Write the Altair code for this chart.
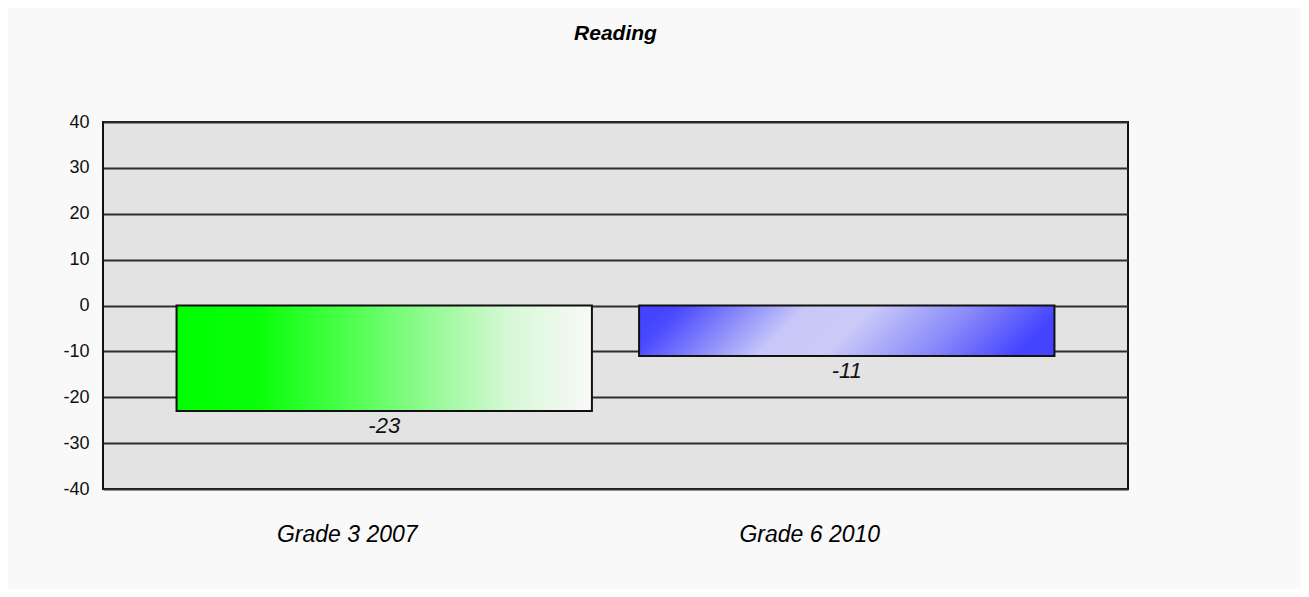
import altair as alt
import pandas as pd

categories = ["Grade 3 2007", "Grade 6 2010"]
values = [-23, -11]
value_labels = ["-23", "-11"]
y_ticks = [-40, -30, -20, -10, 0, 10, 20, 30, 40]

df = pd.DataFrame({"cat": categories, "val": values, "lab": value_labels})

green = alt.LinearGradient(
    gradient="linear", x1=0, y1=0, x2=1, y2=0,
    stops=[
        alt.GradientStop(color="#00ff00", offset=0),
        alt.GradientStop(color="#0aff0a", offset=0.2),
        alt.GradientStop(color="#48ff48", offset=0.4),
        alt.GradientStop(color="#90fa90", offset=0.6),
        alt.GradientStop(color="#d6f8d6", offset=0.8),
        alt.GradientStop(color="#f9f9f9", offset=1),
    ],
)
blue = alt.LinearGradient(
    gradient="linear", x1=0, y1=0.44, x2=1, y2=0.56,
    stops=[
        alt.GradientStop(color="#4444ff", offset=0),
        alt.GradientStop(color="#4a4aff", offset=0.05),
        alt.GradientStop(color="#c8c8f8", offset=0.35),
        alt.GradientStop(color="#cbcbf8", offset=0.5),
        alt.GradientStop(color="#8888fa", offset=0.75),
        alt.GradientStop(color="#4444ff", offset=0.96),
        alt.GradientStop(color="#4444ff", offset=1),
    ],
)

x_enc = alt.X(
    "cat:N", sort=categories,
    scale=alt.Scale(paddingInner=0.102, paddingOuter=0.159),
    axis=alt.Axis(title=None, labelAngle=0, domain=False, ticks=False,
                  labelFontSize=23, labelFont="Liberation Sans",
                  labelFontStyle="italic", labelColor="black",
                  labelPadding=34, labelOffset=-37),
)
y_enc = alt.Y(
    "val:Q",
    scale=alt.Scale(domain=[-40, 40], nice=False),
    axis=alt.Axis(values=y_ticks, title=None, grid=True, gridColor="#2e2e2e",
                  gridWidth=2, gridOpacity=1, domain=False, ticks=False,
                  labelPadding=14, labelFontSize=18,
                  labelExpr="datum.value + ''",
                  labelFont="Liberation Sans Narrow, Liberation Sans",
                  labelColor="#111111"),
)

base = alt.Chart(df)

bar1 = base.transform_filter(alt.datum.cat == categories[0]).mark_bar(
    color=green, stroke="#111111", strokeWidth=2
).encode(x=x_enc, y=y_enc)

bar2 = base.transform_filter(alt.datum.cat == categories[1]).mark_bar(
    color=blue, stroke="#111111", strokeWidth=2
).encode(x=x_enc, y=y_enc)

labels = base.mark_text(
    baseline="top", dy=5, fontSize=22, fontStyle="italic",
    font="Liberation Sans", color="#111111"
).encode(x=x_enc, y=y_enc, text="lab:N")

chart = alt.layer(bar1, bar2, labels).properties(
    width=1025,
    height=367,
    autosize="none",
    padding={"left": 95, "top": 114, "right": 173, "bottom": 100},
    background="#f9f9f9",
    title=alt.TitleParams(
        "Reading", fontSize=21, fontWeight="bold", fontStyle="italic",
        font="Liberation Sans", anchor="middle", frame="group",
        baseline="alphabetic", offset=52, color="black",
    ),
).configure_view(fill="#e3e3e3", stroke="#111111", strokeWidth=2)

chart.save("out.html", embed_options={"renderer": "svg", "actions": False})
